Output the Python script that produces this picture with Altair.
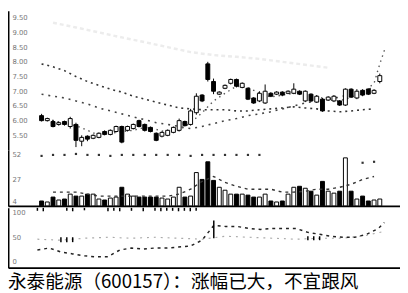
import altair as alt
import pandas as pd

# ---- daily candles (index = trading day) ----
day = list(range(60))
open_ = [6.17, 6.00, 5.97, 5.87, 5.97, 5.80, 5.87, 5.30, 5.47, 5.40,
         5.43, 5.63, 5.53, 5.63, 5.80, 5.67, 5.73, 6.00, 5.87, 5.77,
         5.57, 5.47, 5.50, 5.60, 5.67, 5.97, 5.87, 6.27, 6.87, 7.93,
         7.33, 6.90, 7.10, 7.27, 7.40, 7.13, 7.10, 6.77, 6.67, 6.60,
         6.93, 6.90, 6.97, 6.93, 6.93, 7.00, 6.67, 6.90, 6.63, 6.73,
         6.70, 6.67, 6.67, 6.53, 7.07, 6.77, 7.03, 7.07, 6.93, 7.33]
close = [6.00, 6.07, 5.80, 5.93, 5.87, 6.07, 5.33, 5.43, 5.37, 5.50,
         5.57, 5.53, 5.67, 5.80, 5.27, 5.80, 5.87, 5.80, 5.67, 5.63,
         5.33, 5.60, 5.67, 5.77, 6.00, 5.83, 6.33, 6.83, 6.67, 7.40,
         7.00, 6.97, 7.20, 7.40, 7.17, 7.27, 6.73, 6.60, 6.93, 7.00,
         6.83, 6.97, 6.87, 7.00, 7.07, 6.90, 7.00, 6.67, 6.83, 6.33,
         6.80, 6.83, 6.53, 7.07, 6.80, 7.00, 6.87, 6.90, 7.03, 7.53]
high = [6.23, 6.10, 6.03, 5.97, 6.00, 6.13, 5.93, 5.50, 5.50, 5.53,
        5.60, 5.67, 5.70, 5.83, 5.83, 5.83, 5.90, 6.03, 5.90, 5.80,
        5.60, 5.63, 5.70, 5.80, 6.07, 6.00, 6.40, 6.93, 6.90, 8.00,
        7.43, 7.00, 7.23, 7.43, 7.43, 7.30, 7.13, 6.80, 7.00, 7.23,
        6.97, 7.00, 7.00, 7.03, 7.27, 7.03, 7.03, 6.93, 6.87, 6.77,
        6.83, 6.87, 6.70, 7.10, 7.10, 7.07, 7.07, 7.10, 7.07, 7.60]
low = [5.97, 5.97, 5.77, 5.83, 5.83, 5.73, 5.10, 5.13, 5.30, 5.37,
       5.40, 5.50, 5.50, 5.60, 5.23, 5.63, 5.70, 5.77, 5.63, 5.60,
       5.30, 5.43, 5.47, 5.57, 5.63, 5.80, 5.83, 6.20, 6.63, 7.33,
       6.90, 6.87, 7.07, 7.23, 7.13, 7.10, 6.70, 6.57, 6.63, 6.57,
       6.80, 6.87, 6.83, 6.90, 6.90, 6.87, 6.63, 6.63, 6.60, 6.30,
       6.67, 6.63, 6.50, 6.50, 6.77, 6.73, 6.83, 6.87, 6.90, 7.27]
volume = [5, 4, 9, 6, 7, 12, 10, 10, 12, 12,
          7, 6, 8, 9, 19, 12, 10, 9, 9, 9,
          9, 8, 7, 9, 19, 9, 10, 34, 27, 45,
          26, 19, 16, 12, 12, 12, 11, 9, 9, 12,
          5, 4, 5, 12, 19, 20, 18, 15, 11, 25,
          15, 13, 15, 49, 15, 7, 10, 5, 6, 7]

# ---- moving averages on the price panel ----
ma_days = list(range(0, 60, 2))
ma_long = [7.93, 7.83, 7.70, 7.50, 7.33, 7.20, 7.07, 6.97, 6.83, 6.73,
           6.63, 6.53, 6.43, 6.40, 6.37, 6.37, 6.37, 6.33, 6.33, 6.37,
           6.40, 6.43, 6.47, 6.43, 6.40, 6.33, 6.30, 6.33, 6.37, 6.40]
ma_mid = [6.90, 6.83, 6.77, 6.67, 6.57, 6.43, 6.33, 6.23, 6.13, 6.03,
          5.93, 5.87, 5.80, 5.73, 5.80, 5.90, 6.00, 6.07, 6.17, 6.23,
          6.30, 6.40, 6.50, 6.60, 6.67, 6.73, 6.80, 6.90, 7.00, 7.13]
ma_short_days = list(range(0, 60, 2)) + [59, 60]
ma_short = [6.07, 6.00, 5.90, 5.83, 5.67, 5.50, 5.57, 5.63, 5.67, 5.77,
            5.70, 5.60, 5.67, 5.93, 6.27, 6.67, 6.93, 7.17, 7.13, 6.93,
            6.80, 6.87, 6.93, 6.90, 6.83, 6.70, 6.67, 6.80, 6.93, 7.27,
            7.93, 8.50]
ma_top_days = [2, 6, 10, 14, 18, 22, 26, 30, 34, 38, 42, 46, 50]
ma_top = [9.33, 9.17, 9.00, 8.83, 8.67, 8.50, 8.33, 8.23, 8.17, 8.10, 8.00, 7.90, 7.80]
price_ticks = [5.5, 6.0, 6.5, 7.0, 7.5, 8.0, 8.5, 9.0, 9.5]

# ---- volume averages ----
vma_days = list(range(2, 60, 2))
vma = [14, 14, 14, 12, 10, 10, 10, 10, 10, 10,
       10, 12, 17, 25, 30, 24, 20, 17, 17, 17,
       14, 14, 15, 17, 17, 19, 22, 27, 30]
vma2_days = list(range(0, 40, 2)) + [56, 58]
vma2 = [51, 52, 52, 53, 52, 52, 51, 52, 52, 52,
        52, 52, 52, 51, 52, 52, 52, 52, 52, 52, 44, 45]
vol_ticks = [4, 27, 52]

# ---- lower indicator ----
ind_days = list(range(0, 60, 2)) + [59]
ind1 = [24, 28, 20, 16, 12, 10, 10, 24, 28, 26,
        28, 28, 30, 32, 44, 74, 72, 72, 68, 66,
        68, 68, 68, 60, 56, 52, 50, 50, 56, 68, 80]
ind2_days = [0, 4, 8, 12, 16, 20, 24, 28, 32, 36, 40, 44, 48, 52, 56, 59]
ind2 = [46, 44, 48, 50, 48, 50, 48, 46, 52, 50, 48, 46, 48, 48, 54, 62]
bar_days = [4, 5, 6, 30, 46, 47, 48]
bar_lo = [40, 40, 40, 48, 44, 44, 44]
bar_hi = [50, 50, 50, 84, 52, 52, 52]
hang_days = [0, 1, 5, 6, 8, 12, 13, 14, 16, 18, 20, 21, 22, 23, 24, 25, 26, 27]
hang_lo = [104, 103, 104, 103, 105, 103, 104, 103, 104, 103, 104, 103, 104, 104, 103, 104, 103, 104]
ind_ticks = [0, 50, 100]

caption = "永泰能源（600157）：涨幅已大，不宜跟风"

# ---------------------------------------------------------------
candles = pd.DataFrame({"day": day, "open": open_, "close": close,
                        "high": high, "low": low, "volume": volume})
xs = alt.Scale(domain=[-5, 61.67], nice=False, zero=False)
label_style = dict(labelFont="DejaVu Sans", labelFontSize=7, labelColor="#777",
                   labelAlign="left", labelPadding=-4, labelBaseline="middle")


def yaxis(vals, fmt):
    return alt.Axis(values=vals, format=fmt, title=None, grid=False, ticks=False,
                    domain=True, domainColor="black", domainWidth=2, minExtent=0,
                    **label_style)


def xaxis(show):
    if not show:
        return None
    return alt.Axis(title=None, grid=False, ticks=False, labels=False, domain=True,
                    domainColor="black", domainWidth=2)


fill_rule = alt.condition(alt.datum.close >= alt.datum.open,
                          alt.value("white"), alt.value("black"))

# price panel
ps = alt.Scale(domain=[5.0, 9.7333], nice=False, zero=False)
pax = yaxis(price_ticks, ".2f")
X0 = alt.X("day:Q", scale=xs, axis=None)


def line_layer(days, vals, color, width, dash, scale, axis, xenc):
    df = pd.DataFrame({"day": days, "v": vals})
    return alt.Chart(df).mark_line(color=color, strokeWidth=width, strokeDash=dash).encode(
        x=xenc, y=alt.Y("v:Q", scale=scale, axis=axis))


top_l = line_layer(ma_top_days, ma_top, "#ececec", 2.5, [4, 3], ps, pax, X0)
long_l = line_layer(ma_days, ma_long, "#333", 1.6, [2, 4], ps, pax, X0)
mid_l = line_layer(ma_days, ma_mid, "#444", 1.6, [2, 5], ps, pax, X0)
short_l = line_layer(ma_short_days, ma_short, "#555", 1.4, [1.5, 4], ps, pax, X0)

wick = alt.Chart(candles).mark_rule(color="black", strokeWidth=1).encode(
    x=X0, y=alt.Y("low:Q", scale=ps, axis=pax), y2="high:Q")
body = alt.Chart(candles).mark_bar(size=4, stroke="black", strokeWidth=1).encode(
    x=X0, y=alt.Y("open:Q", scale=ps, axis=pax), y2="close:Q", fill=fill_rule)

main = alt.layer(top_l, long_l, mid_l, short_l, wick, body).properties(width=400, height=142)

# volume panel
vs = alt.Scale(domain=[0, 57], nice=False, zero=False)
vax = yaxis(vol_ticks, "d")
X1 = alt.X("day:Q", scale=xs, axis=xaxis(True))
vbars = alt.Chart(candles).mark_bar(size=4, stroke="black", strokeWidth=1).encode(
    x=X1, y=alt.Y("volume:Q", scale=vs, axis=vax), fill=fill_rule)
vma_l = line_layer(vma_days, vma, "#333", 1.4, [3, 4], vs, vax, X1)
vma2_df = pd.DataFrame({"day": vma2_days, "v": vma2})
vma2_p = alt.Chart(vma2_df).mark_square(size=5, color="#333", opacity=1).encode(
    x=X1, y=alt.Y("v:Q", scale=vs, axis=vax))
vol = alt.layer(vbars, vma_l, vma2_p).properties(width=400, height=57)

# indicator panel
isc = alt.Scale(domain=[-12, 110], nice=False, zero=False)
iax = yaxis(ind_ticks, "d")
X2 = alt.X("day:Q", scale=xs, axis=xaxis(True))
i2_l = line_layer(ind2_days, ind2, "#aaa", 1.2, [2, 5], isc, iax, X2)
i1_l = line_layer(ind_days, ind1, "#222", 1.5, [3, 4], isc, iax, X2)
bars_df = pd.DataFrame({"day": bar_days, "lo": bar_lo, "hi": bar_hi})
ibars = alt.Chart(bars_df).mark_rule(color="black", strokeWidth=1.5).encode(
    x=X2, y=alt.Y("lo:Q", scale=isc, axis=iax), y2="hi:Q")
hang_df = pd.DataFrame({"day": hang_days, "lo": hang_lo})
hang = alt.Chart(hang_df).mark_rule(color="black", strokeWidth=1.5).encode(
    x=X2, y=alt.Y("lo:Q", scale=isc, axis=iax), y2=alt.datum(110))
ind = alt.layer(i2_l, i1_l, ibars, hang).properties(width=400, height=61)

chart = alt.vconcat(main, vol, ind, spacing=0).resolve_scale(
    x="independent", y="independent").properties(
    padding=0,
    title=alt.TitleParams(text=caption, orient="bottom", anchor="start",
                          font="Noto Sans CJK SC", fontSize=19, fontWeight="normal",
                          color="black", offset=6)
).configure_view(stroke=None)

chart.save("out.html", embed_options={"renderer": "svg", "actions": False})
